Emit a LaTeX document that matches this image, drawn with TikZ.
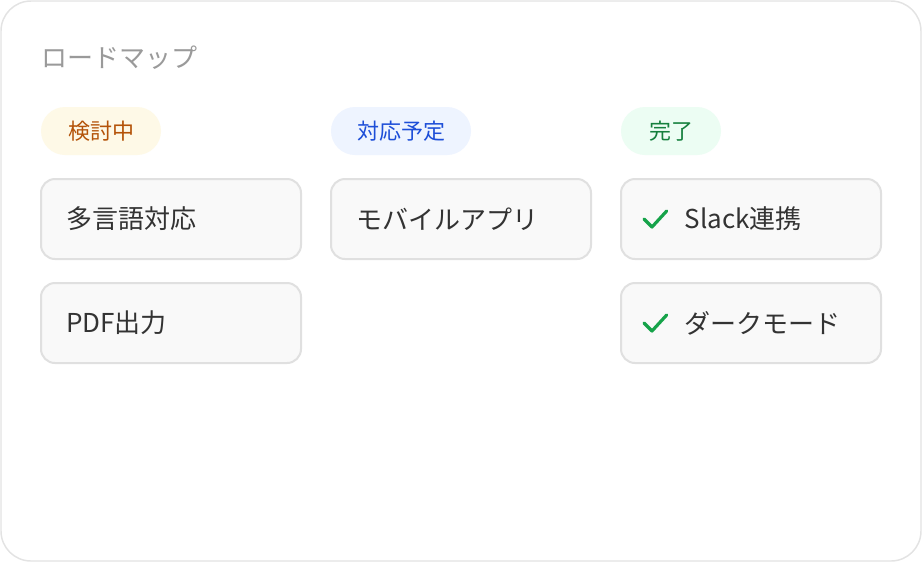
\documentclass[tikz,border=0pt]{standalone}
\usepackage{fontspec}
\setmainfont{Noto Sans CJK JP}
\definecolor{frameline}{HTML}{E3E3E3}
\definecolor{titlegray}{HTML}{9A9A9A}
\definecolor{cardfill}{HTML}{F9F9F9}
\definecolor{cardline}{HTML}{E0E0E0}
\definecolor{cardtext}{HTML}{333333}
\definecolor{ideafill}{HTML}{FEF9E7}
\definecolor{ideatext}{HTML}{B45309}
\definecolor{planfill}{HTML}{EEF4FF}
\definecolor{plantext}{HTML}{1D4ED8}
\definecolor{donefill}{HTML}{ECFDF3}
\definecolor{donetext}{HTML}{15803D}
\definecolor{checkgreen}{HTML}{16A34A}

\begin{document}
\begin{tikzpicture}[x=0.75pt,y=-0.75pt,
  pill/.style={rounded corners=18pt,minimum height=36pt,inner sep=0pt,
    font=\fontsize{16.5pt}{20pt}\selectfont},
  card/.style={draw=cardline,line width=1.5pt,fill=cardfill,rounded corners=10.5pt,
    minimum width=195pt,minimum height=60pt,text width=157.5pt,inner xsep=18.75pt,
    align=left,text=cardtext,font=\fontsize{19.5pt}{24pt}\selectfont},
  checkmark/.style={draw=checkgreen,line width=2.4pt,line cap=round,line join=round}]
\useasboundingbox (0,0) rectangle (922,562);
\draw[frameline,fill=white,line width=1.1pt,rounded corners=22.5pt] (1,1) rectangle (921,561);
\node[anchor=west,text=titlegray,inner sep=0pt,font=\fontsize{19.5pt}{23pt}\selectfont] (title) at (41,58) {ロードマップ};
% column heads
\node[pill,fill=ideafill,text=ideatext,minimum width=90pt] (idea) at (101,131) {検討中};
\node[pill,fill=planfill,text=plantext,minimum width=105pt] (plan) at (401,131) {対応予定};
\node[pill,fill=donefill,text=donetext,minimum width=75pt] (done) at (671,131) {完了};
% items
\node[card] (i1) at (171,219) {多言語対応};
\node[card] (i2) at (171,323) {PDF出力};
\node[card] (p1) at (461,219) {モバイルアプリ};
\node[card] (d1) at (751,219) {\hspace*{29pt}Slack連携};
\node[card] (d2) at (751,323) {\hspace*{29pt}ダークモード};
\draw[checkmark] ([xshift=18pt,yshift=0pt]d1.west) -- ++(6pt,-6pt) -- ++(11pt,12pt);
\draw[checkmark] ([xshift=18pt,yshift=0pt]d2.west) -- ++(6pt,-6pt) -- ++(11pt,12pt);
\end{tikzpicture}
\end{document}
